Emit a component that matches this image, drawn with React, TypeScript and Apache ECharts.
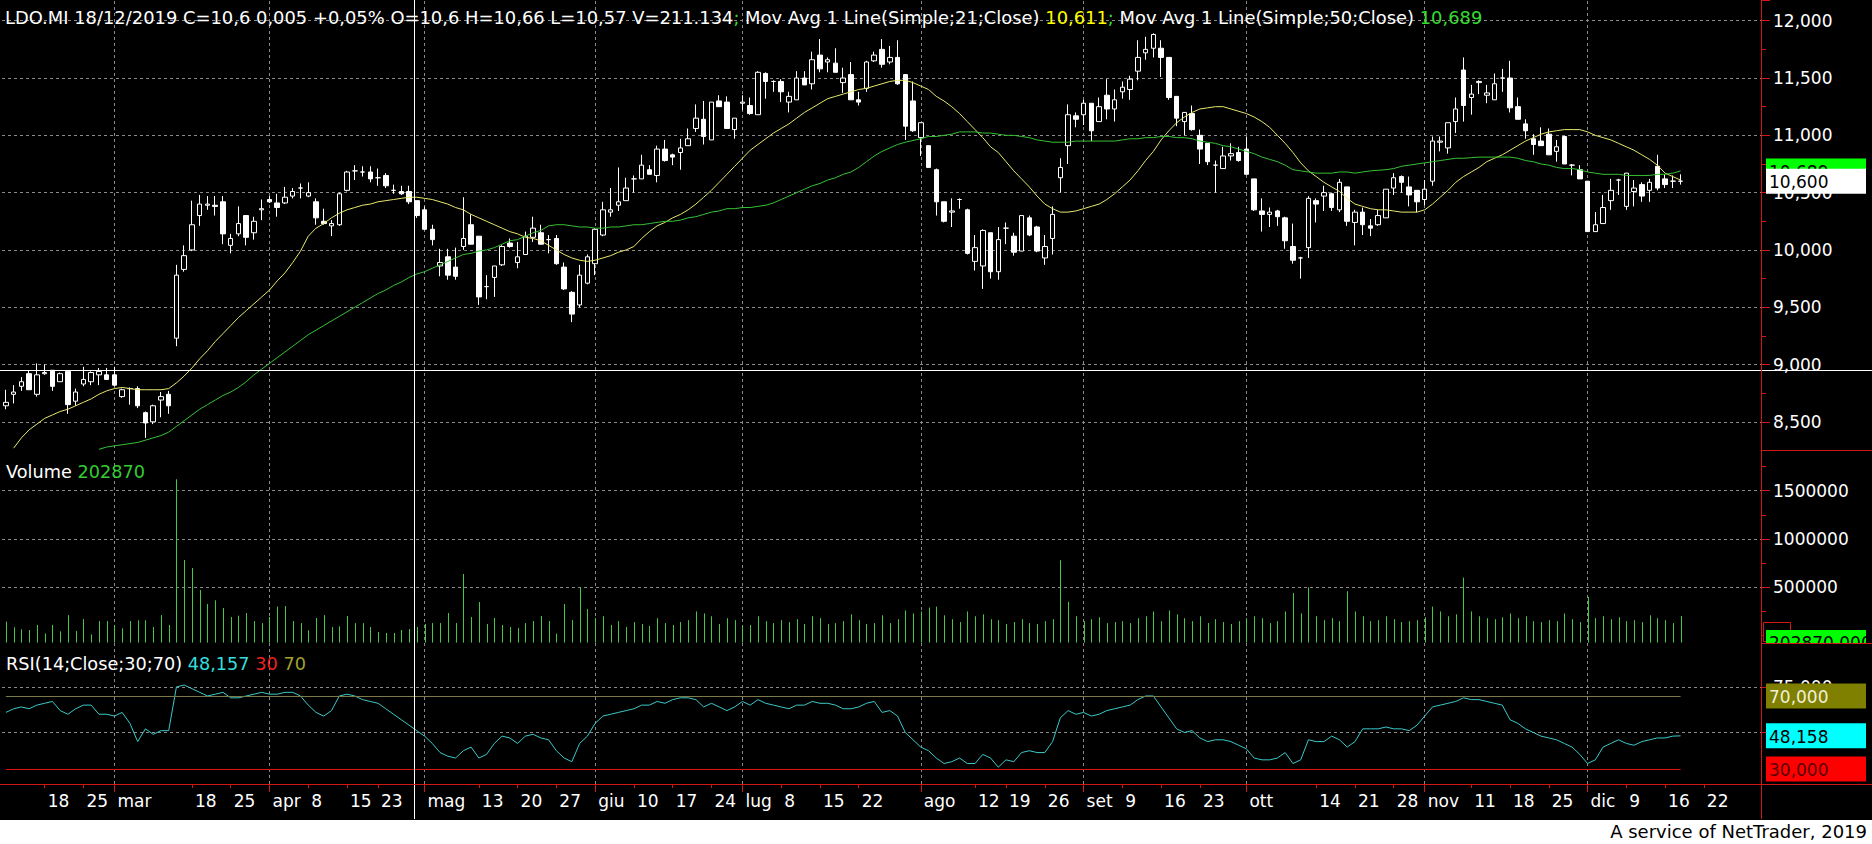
import React, { useEffect, useRef } from "react";
import * as echarts from "echarts";

const FONT = "DejaVu Sans";

// ---------- categories (trading days shown on the chart) ----------
const daysFeb = [11, 12, 13, 14, 15, 18, 19, 20, 21, 22, 25, 26, 27, 28];
const daysMar = [1, 4, 5, 6, 7, 8, 11, 12, 13, 14, 18, 19, 20, 21, 22, 25, 26, 27, 28, 29];
const daysApr = [1, 2, 3, 4, 5, 8, 9, 10, 11, 12, 15, 16, 17, 18, 23, 24, 25, 26, 29, 30];
const daysMay = [2, 3, 6, 7, 8, 9, 10, 13, 14, 15, 16, 17, 20, 21, 22, 23, 24, 27, 28, 29, 30, 31];
const daysJun = [3, 4, 5, 6, 7, 10, 11, 12, 13, 14, 17, 18, 19, 20, 21, 24, 25, 26, 27];
const daysJul = [1, 2, 3, 4, 5, 8, 9, 10, 11, 12, 15, 16, 17, 18, 19, 22, 23, 24, 25, 26, 29, 30, 31];
const daysAug = [1, 2, 5, 6, 7, 8, 9, 12, 13, 14, 16, 19, 20, 21, 22, 23, 26, 27, 28, 29, 30];
const daysSep = [2, 3, 4, 5, 6, 9, 10, 11, 12, 13, 16, 17, 18, 19, 20, 23, 24, 25, 26, 27, 30];
const daysOct = [1, 2, 3, 4, 7, 8, 9, 10, 11, 14, 15, 16, 17, 18, 21, 22, 23, 24, 25, 28, 29, 30, 31];
const daysNov = [1, 4, 5, 6, 7, 8, 11, 12, 13, 14, 15, 18, 19, 20, 21, 22, 25, 26, 27, 28, 29];
const daysDec = [2, 3, 4, 5, 6, 9, 10, 11, 12, 13, 16, 17, 18];
const futureDec = [19, 20, 22, 23, 24, 27, 30, 31];
const futureJan = [2, 3];

const monthStarts = ["2019-03-01", "2019-04-01", "2019-05-02", "2019-06-03", "2019-07-01", "2019-08-01", "2019-09-02", "2019-10-01", "2019-11-01", "2019-12-02"];
const weekLabels = ["2019-02-18", "2019-02-25", "2019-03-18", "2019-03-25", "2019-04-08", "2019-04-15", "2019-04-23", "2019-05-13", "2019-05-20", "2019-05-27", "2019-06-10", "2019-06-17", "2019-06-24", "2019-07-08", "2019-07-15", "2019-07-22", "2019-08-12", "2019-08-19", "2019-08-26", "2019-09-09", "2019-09-16", "2019-09-23", "2019-10-14", "2019-10-21", "2019-10-28", "2019-11-11", "2019-11-18", "2019-11-25", "2019-12-09", "2019-12-16", "2019-12-22"];
const monthAbbr = ["gen", "feb", "mar", "apr", "mag", "giu", "lug", "ago", "set", "ott", "nov", "dic"];

// ---------- OHLC: [open, close, low, high] ----------
const candles = [
  [8.64, 8.67, 8.61, 8.78], [8.74, 8.76, 8.66, 8.82], [8.81, 8.85, 8.77, 8.89], [8.92, 8.78, 8.78, 8.95], [8.74, 8.91, 8.72, 9.01],
  [8.92, 8.93, 8.91, 9.0], [8.95, 8.81, 8.77, 8.95], [8.85, 8.92, 8.85, 8.93], [8.94, 8.65, 8.57, 8.95], [8.68, 8.76, 8.64, 8.79],
  [8.83, 8.87, 8.81, 8.98], [8.85, 8.93, 8.82, 8.94], [8.91, 8.94, 8.82, 8.97], [8.91, 8.87, 8.87, 8.97], [8.91, 8.82, 8.81, 8.98],
  [8.72, 8.78, 8.71, 8.79], [8.79, 8.79, 8.65, 8.8], [8.79, 8.64, 8.62, 8.81], [8.58, 8.49, 8.36, 8.59], [8.5, 8.64, 8.48, 8.65],
  [8.69, 8.72, 8.54, 8.76], [8.74, 8.64, 8.57, 8.77], [9.23, 9.78, 9.16, 9.87], [9.83, 9.95, 9.81, 10.04], [10.0, 10.22, 9.99, 10.43],
  [10.3, 10.4, 10.21, 10.48], [10.39, 10.4, 10.35, 10.47], [10.39, 10.38, 10.3, 10.47], [10.42, 10.14, 10.05, 10.47], [10.04, 10.1, 9.97, 10.14],
  [10.14, 10.23, 10.12, 10.38], [10.3, 10.11, 10.04, 10.3], [10.15, 10.25, 10.09, 10.29], [10.35, 10.36, 10.26, 10.44], [10.44, 10.42, 10.41, 10.47],
  [10.41, 10.37, 10.29, 10.49], [10.41, 10.46, 10.4, 10.55], [10.47, 10.51, 10.45, 10.54], [10.54, 10.54, 10.45, 10.58], [10.47, 10.5, 10.46, 10.59],
  [10.42, 10.28, 10.22, 10.45], [10.25, 10.23, 10.22, 10.36], [10.21, 10.23, 10.12, 10.26], [10.22, 10.49, 10.21, 10.5], [10.52, 10.68, 10.51, 10.69],
  [10.69, 10.69, 10.61, 10.74], [10.68, 10.68, 10.64, 10.73], [10.68, 10.62, 10.59, 10.73], [10.63, 10.63, 10.56, 10.71], [10.65, 10.56, 10.54, 10.67],
  [10.52, 10.52, 10.49, 10.57], [10.51, 10.49, 10.48, 10.56], [10.51, 10.42, 10.4, 10.56], [10.43, 10.3, 10.28, 10.43], [10.35, 10.18, 10.18, 10.38],
  [10.18, 10.09, 10.04, 10.22], [9.86, 9.89, 9.77, 10.01], [9.94, 9.78, 9.74, 10.01], [9.85, 9.77, 9.74, 10.02], [10.03, 10.1, 10.0, 10.46],
  [10.22, 10.05, 10.05, 10.31], [10.12, 9.59, 9.52, 10.12], [9.68, 9.68, 9.57, 9.78], [9.76, 9.86, 9.59, 9.86], [9.87, 10.03, 9.86, 10.04],
  [10.06, 10.03, 10.02, 10.1], [9.89, 9.94, 9.84, 10.07], [9.96, 10.12, 9.96, 10.16], [10.11, 10.19, 10.07, 10.29], [10.15, 10.05, 10.05, 10.22],
  [10.09, 10.09, 9.97, 10.13], [10.1, 9.88, 9.87, 10.13], [9.85, 9.66, 9.65, 9.89], [9.63, 9.44, 9.37, 9.64], [9.52, 9.78, 9.5, 9.87],
  [9.71, 9.94, 9.7, 9.96], [9.88, 10.18, 9.78, 10.19], [10.13, 10.35, 10.12, 10.42], [10.33, 10.35, 10.29, 10.54], [10.39, 10.42, 10.34, 10.72],
  [10.43, 10.54, 10.43, 10.63], [10.62, 10.62, 10.5, 10.65], [10.62, 10.74, 10.62, 10.83], [10.7, 10.66, 10.66, 10.74], [10.65, 10.88, 10.59, 10.91],
  [10.88, 10.78, 10.77, 10.96], [10.83, 10.81, 10.74, 10.84], [10.85, 10.89, 10.7, 10.97], [10.91, 10.97, 10.91, 11.06], [11.06, 11.15, 11.03, 11.27],
  [11.14, 10.99, 10.92, 11.3], [10.96, 11.29, 10.96, 11.29], [11.3, 11.25, 11.25, 11.35], [11.29, 11.06, 11.06, 11.34], [11.05, 11.15, 10.97, 11.15],
  [11.28, 11.29, 11.22, 11.35], [11.26, 11.19, 11.18, 11.33], [11.18, 11.55, 11.18, 11.56], [11.54, 11.47, 11.32, 11.55], [11.47, 11.47, 11.38, 11.48],
  [11.47, 11.38, 11.29, 11.49], [11.29, 11.34, 11.2, 11.38], [11.31, 11.5, 11.31, 11.56], [11.5, 11.44, 11.44, 11.56], [11.45, 11.66, 11.4, 11.73],
  [11.7, 11.58, 11.55, 11.84], [11.64, 11.66, 11.55, 11.68], [11.63, 11.55, 11.55, 11.76], [11.46, 11.5, 11.37, 11.59], [11.53, 11.31, 11.31, 11.64],
  [11.31, 11.29, 11.26, 11.38], [11.41, 11.64, 11.38, 11.65], [11.65, 11.7, 11.64, 11.73], [11.75, 11.62, 11.59, 11.84], [11.64, 11.68, 11.62, 11.78],
  [11.68, 11.45, 11.44, 11.83], [11.53, 11.08, 10.96, 11.53], [11.3, 11.04, 11.03, 11.47], [10.98, 11.11, 10.82, 11.11], [10.91, 10.72, 10.72, 10.91],
  [10.7, 10.42, 10.3, 10.71], [10.42, 10.25, 10.24, 10.42], [10.33, 10.34, 10.2, 10.45], [10.44, 10.44, 10.36, 10.45], [10.35, 9.97, 9.96, 10.36],
  [9.9, 10.02, 9.82, 10.13], [9.86, 10.17, 9.66, 10.18], [10.15, 9.81, 9.75, 10.15], [9.81, 10.09, 9.74, 10.2], [10.19, 10.19, 10.05, 10.24],
  [10.12, 9.98, 9.95, 10.15], [9.99, 10.3, 9.99, 10.3], [10.28, 10.13, 10.12, 10.3], [10.2, 9.99, 9.98, 10.21], [9.93, 10.03, 9.87, 10.13],
  [10.1, 10.31, 9.96, 10.38], [10.63, 10.72, 10.5, 10.8], [10.91, 11.18, 10.75, 11.27], [11.17, 11.14, 11.07, 11.2], [11.18, 11.28, 11.09, 11.31],
  [11.28, 11.04, 10.95, 11.28], [11.12, 11.25, 11.12, 11.33], [11.35, 11.23, 11.14, 11.49], [11.23, 11.31, 11.12, 11.4], [11.38, 11.42, 11.32, 11.47],
  [11.4, 11.49, 11.31, 11.52], [11.56, 11.68, 11.48, 11.83], [11.72, 11.75, 11.66, 11.86], [11.76, 11.88, 11.68, 11.89], [11.76, 11.68, 11.51, 11.83],
  [11.68, 11.33, 11.31, 11.68], [11.34, 11.15, 11.08, 11.34], [11.12, 11.2, 11.0, 11.2], [11.19, 11.05, 11.04, 11.26], [11.0, 10.88, 10.75, 11.05],
  [10.93, 10.77, 10.74, 10.93], [10.74, 10.74, 10.5, 10.78], [10.71, 10.82, 10.71, 10.9], [10.82, 10.84, 10.78, 10.93], [10.85, 10.78, 10.77, 10.9],
  [10.88, 10.66, 10.66, 10.99], [10.62, 10.35, 10.34, 10.62], [10.34, 10.31, 10.16, 10.45], [10.31, 10.33, 10.2, 10.37], [10.34, 10.29, 10.21, 10.35],
  [10.28, 10.08, 10.01, 10.29], [10.03, 9.91, 9.88, 10.23], [9.93, 9.93, 9.75, 9.94], [10.02, 10.45, 9.93, 10.47], [10.43, 10.4, 10.24, 10.45],
  [10.47, 10.5, 10.34, 10.56], [10.49, 10.37, 10.34, 10.5], [10.35, 10.59, 10.33, 10.62], [10.55, 10.25, 10.21, 10.55], [10.24, 10.33, 10.04, 10.35],
  [10.33, 10.22, 10.13, 10.37], [10.21, 10.19, 10.12, 10.27], [10.22, 10.3, 10.21, 10.35], [10.28, 10.53, 10.28, 10.53], [10.54, 10.63, 10.48, 10.67],
  [10.64, 10.59, 10.5, 10.65], [10.55, 10.48, 10.38, 10.64], [10.52, 10.42, 10.33, 10.52], [10.44, 10.53, 10.39, 10.61], [10.6, 10.95, 10.56, 10.99],
  [10.94, 10.95, 10.86, 10.99], [10.89, 11.11, 10.84, 11.11], [11.12, 11.23, 11.02, 11.33], [11.57, 11.26, 11.12, 11.68], [11.33, 11.36, 11.18, 11.44],
  [11.46, 11.47, 11.36, 11.48], [11.35, 11.37, 11.28, 11.44], [11.31, 11.45, 11.31, 11.54], [11.5, 11.5, 11.38, 11.58], [11.5, 11.24, 11.2, 11.65],
  [11.25, 11.14, 11.14, 11.33], [11.1, 11.04, 10.97, 11.14], [10.97, 10.92, 10.83, 11.01], [10.95, 10.91, 10.91, 11.07], [11.01, 10.83, 10.83, 11.06],
  [10.86, 10.9, 10.77, 10.96], [10.99, 10.75, 10.75, 10.99], [10.74, 10.74, 10.65, 10.75], [10.7, 10.62, 10.62, 10.74], [10.6, 10.16, 10.16, 10.6],
  [10.16, 10.22, 10.16, 10.33], [10.23, 10.37, 10.23, 10.48], [10.43, 10.52, 10.35, 10.62], [10.61, 10.61, 10.48, 10.62], [10.38, 10.67, 10.35, 10.67],
  [10.51, 10.54, 10.38, 10.61], [10.57, 10.47, 10.42, 10.59], [10.52, 10.59, 10.42, 10.62], [10.73, 10.54, 10.52, 10.83], [10.62, 10.57, 10.54, 10.66],
  [10.6, 10.6, 10.54, 10.65], [10.6, 10.6, 10.57, 10.66],
];

const ma21 = [
  null, 8.27, 8.36, 8.43, 8.48, 8.53, 8.56, 8.59, 8.61, 8.64, 8.67,
  8.7, 8.74, 8.77, 8.79, 8.8, 8.79, 8.78, 8.78, 8.78, 8.78,
  8.79, 8.84, 8.9, 8.97, 9.05, 9.12, 9.2, 9.27, 9.34, 9.41,
  9.47, 9.53, 9.59, 9.65, 9.73, 9.8, 9.89, 9.99, 10.12, 10.19,
  10.23, 10.28, 10.32, 10.35, 10.37, 10.39, 10.4, 10.42, 10.43, 10.44,
  10.45, 10.46, 10.46, 10.45, 10.44, 10.42, 10.4, 10.37, 10.35, 10.31,
  10.28, 10.25, 10.22, 10.19, 10.16, 10.14, 10.11, 10.1, 10.08, 10.04,
  10.0, 9.96, 9.93, 9.91, 9.9, 9.91, 9.93, 9.95, 9.98, 10.0,
  10.03, 10.1, 10.16, 10.21, 10.24, 10.28, 10.31, 10.35, 10.4, 10.46,
  10.52, 10.59, 10.66, 10.73, 10.8, 10.87, 10.92, 10.97, 11.02, 11.06,
  11.1, 11.15, 11.2, 11.24, 11.28, 11.32, 11.34, 11.36, 11.38, 11.4,
  11.41, 11.43, 11.45, 11.47, 11.48, 11.48, 11.46, 11.43, 11.4, 11.34,
  11.3, 11.25, 11.19, 11.12, 11.05, 10.98, 10.9, 10.85, 10.77, 10.69,
  10.62, 10.55, 10.47, 10.4, 10.36, 10.33, 10.33, 10.34, 10.36, 10.38,
  10.4, 10.44, 10.49, 10.55, 10.61, 10.69, 10.78, 10.86, 10.96, 11.04,
  11.11, 11.16, 11.2, 11.23, 11.24, 11.25, 11.25, 11.23, 11.21, 11.19,
  11.16, 11.12, 11.07, 11.0, 10.93, 10.85, 10.76, 10.69, 10.64, 10.59,
  10.55, 10.51, 10.45, 10.4, 10.38, 10.36, 10.35, 10.35, 10.34, 10.33,
  10.33, 10.33, 10.35, 10.4, 10.46, 10.52, 10.59, 10.64, 10.68, 10.72,
  10.77, 10.8, 10.83, 10.87, 10.91, 10.95, 10.98, 11.01, 11.03, 11.04,
  11.05, 11.05, 11.05, 11.03, 11.0, 10.98, 10.96, 10.93, 10.9, 10.87,
  10.83, 10.79, 10.74, 10.67, 10.64, 10.61,
];

const ma50 = [
  null, null, null, null, null, null, null, null, null, null, null, null,
  8.26, 8.28, 8.29, 8.3, 8.31, 8.32, 8.34, 8.36, 8.38,
  8.41, 8.46, 8.51, 8.56, 8.61, 8.65, 8.69, 8.73, 8.76, 8.8,
  8.85, 8.91, 8.96, 9.01, 9.06, 9.11, 9.16, 9.21, 9.26, 9.3,
  9.34, 9.38, 9.42, 9.46, 9.5, 9.54, 9.58, 9.62, 9.65, 9.69,
  9.72, 9.76, 9.79, 9.81, 9.84, 9.87, 9.9, 9.93, 9.96, 9.97,
  9.99, 10.0, 10.02, 10.05, 10.08, 10.09, 10.12, 10.15, 10.17, 10.21,
  10.22, 10.22, 10.21, 10.2, 10.2, 10.19, 10.19, 10.2, 10.2, 10.21,
  10.22, 10.22, 10.23, 10.24, 10.25, 10.25, 10.26, 10.28, 10.29, 10.31,
  10.33, 10.34, 10.36, 10.36, 10.37, 10.37, 10.38, 10.39, 10.41, 10.44,
  10.47, 10.5, 10.53, 10.56, 10.58, 10.61, 10.63, 10.66, 10.68, 10.72,
  10.77, 10.82, 10.86, 10.89, 10.92, 10.94, 10.955, 10.97, 10.99, 10.99,
  11.0, 11.01, 11.03, 11.03, 11.03, 11.02, 11.02, 11.01, 11.0, 11.0,
  10.99, 10.98, 10.96, 10.95, 10.94, 10.94, 10.94, 10.95, 10.95, 10.95,
  10.95, 10.95, 10.95, 10.96, 10.97, 10.97, 10.98, 10.98, 10.99, 10.99,
  10.98, 10.98, 10.97, 10.95, 10.94, 10.93, 10.91, 10.9, 10.88, 10.86,
  10.84, 10.81, 10.79, 10.77, 10.74, 10.7, 10.69, 10.68, 10.67, 10.67,
  10.67, 10.68, 10.68, 10.67, 10.68, 10.69, 10.695, 10.7, 10.71, 10.73,
  10.74, 10.75, 10.76, 10.77, 10.78, 10.79, 10.8, 10.8, 10.805, 10.81,
  10.81, 10.81, 10.81, 10.81, 10.8, 10.78, 10.77, 10.75, 10.74, 10.72,
  10.71, 10.71, 10.7, 10.68, 10.67, 10.66, 10.66, 10.66, 10.65, 10.65,
  10.65, 10.65, 10.66, 10.66, 10.67, 10.69,
];

const volume = [
  144000, 86000, 65000, 58000, 110000, 23000, 110000, 44000, 213000, 48000,
  172000, 13000, 151000, 151000, 110000, 75000, 151000, 158000, 158000, 89000,
  213000, 110000, 1618000, 783000, 700000, 472000, 327000, 365000, 286000, 193000,
  206000, 234000, 151000, 130000, 193000, 300000, 306000, 151000, 130000, 55000,
  182000, 213000, 89000, 96000, 203000, 130000, 130000, 89000, 37000, 27000,
  27000, 58000, 68000, 89000, 120000, 130000, 130000, 234000, 130000, 638000,
  193000, 348000, 120000, 182000, 110000, 89000, 79000, 130000, 151000, 203000,
  151000, 20000, 327000, 161000, 503000, 275000, 180000,
  200000, 110000, 150000, 90000, 140000, 120000, 100000, 180000, 130000, 110000, 140000, 160000,
  250000, 230000, 200000, 120000, 180000, 160000, 100000, 110000, 200000, 150000, 130000, 160000,
  140000, 170000, 120000, 200000, 180000, 120000, 130000, 150000, 220000, 160000, 120000, 130000, 210000, 130000, 170000,
  260000, 230000, 250000, 290000, 300000, 210000, 170000, 140000, 250000, 200000, 220000, 170000, 160000, 120000, 140000, 170000, 130000, 120000, 150000, 170000,
  780000, 350000, 200000, 150000, 170000, 190000, 130000, 140000, 150000, 130000, 180000, 200000, 250000, 150000, 260000, 220000, 180000, 150000, 200000, 130000, 170000, 140000, 120000, 150000, 180000,
  200000, 180000, 130000, 150000, 250000, 440000, 230000, 500000, 200000, 160000, 180000, 150000, 460000, 250000, 200000, 150000, 160000, 200000, 170000, 140000, 150000, 160000, 190000,
  300000, 250000, 200000, 220000, 600000, 250000, 200000, 180000, 170000, 190000, 230000, 180000, 200000, 150000, 140000, 160000, 150000, 230000, 170000, 140000, 400000, 180000, 200000, 170000, 190000, 150000, 160000, 140000, 210000, 180000, 160000, 130000, 202870,
];

const rsi = [
  61, 63, 64, 63, 65, 66, 67, 62, 60, 63, 65, 65, 60, 60, 59, 61, 55, 45, 52, 49,
  51, 51, 75, 76, 74, 72, 70, 71, 72, 69, 69, 70, 71, 72, 71, 71, 72, 72, 70, 65,
  61, 59, 62, 70, 71, 70, 68, 67, 66, 63, 60, 57, 54, 51, 48, 44, 39, 37, 36, 40,
  42, 36, 38, 44, 48, 47, 44, 48, 49, 47, 46, 40, 36, 34, 44, 48, 55, 59, 60, 61,
  62, 63, 65, 65, 67, 66, 68, 69, 69, 68, 64, 66, 64, 62, 64, 67, 65, 68, 66, 65,
  64, 63, 65, 65, 67, 66, 66, 65, 63, 63, 64, 66, 67, 61, 62, 59, 50, 46, 42, 40,
  36, 33, 34, 36, 33, 33, 38, 36, 31, 35, 34, 39, 40, 39, 39, 45, 58, 62, 60, 61,
  59, 60, 62, 63, 64, 65, 68, 70, 70, 64, 58, 52, 50, 51, 47, 45, 46, 46, 45, 43,
  41, 36, 35, 35, 36, 39, 33, 35, 46, 45, 45, 48, 46, 42, 45, 52, 52, 52, 53, 52,
  52, 51, 54, 59, 64, 65, 66, 67, 69, 68, 68, 67, 66, 65, 57, 55, 52, 50, 48, 47,
  46, 44, 42, 38, 33, 35, 42, 44, 46, 44, 43, 45, 46, 47, 47, 48, 48.16,
];

const pad = (n: number) => String(n).padStart(2, "0");
const mk = (y: number, m: number, list: number[]) => list.map((d) => `${y}-${pad(m)}-${pad(d)}`);
const categories = [
  ...mk(2019, 2, daysFeb), ...mk(2019, 3, daysMar), ...mk(2019, 4, daysApr), ...mk(2019, 5, daysMay),
  ...mk(2019, 6, daysJun), ...mk(2019, 7, daysJul), ...mk(2019, 8, daysAug), ...mk(2019, 9, daysSep),
  ...mk(2019, 10, daysOct), ...mk(2019, 11, daysNov), ...mk(2019, 12, daysDec),
  ...mk(2019, 12, futureDec), ...mk(2020, 1, futureJan),
];

const monthSet = new Set(monthStarts);
const weekSet = new Set(weekLabels);
const RED = "#d01818";
const GRID_GREY = "#8a8a8a";
const TXT = `17.7px "${FONT}"`;
const HDR = `17.9px "${FONT}"`;

const commaFmt = (v: number) => v.toFixed(3).replace(".", ",");

export default function App() {
  const ref = useRef<HTMLDivElement>(null);
  useEffect(() => {
    document.body.style.margin = "0";
    const chart = echarts.init(ref.current!, null, { renderer: "svg" });
    const L = 2;
    const R = 110;
    const grids = [
      { left: L, right: R, top: 0, height: 450.7 },
      { left: L, right: R, top: 450.7, height: 184.9 },
      { left: L, right: R, top: 641.25, height: 136.85 },
      { left: L, right: R, top: 0, height: 784 },
    ].map((g) => ({ ...g, containLabel: false, outerBoundsMode: "none" }));

    const hiddenX = (gi: number) => ({
      type: "category", gridIndex: gi, data: categories, boundaryGap: true, show: false,
    });
    const yCommon = {
      position: "right",
      axisLine: { show: false },
      axisTick: { show: true, length: 8, lineStyle: { color: RED } },
      minorTick: { show: true, splitNumber: 2, length: 4, lineStyle: { color: RED } },
      splitLine: { show: true, showMinLine: false, showMaxLine: false, lineStyle: { color: GRID_GREY, type: [3, 3], width: 1 } },
      axisLabel: { color: "#fff", fontFamily: FONT, fontSize: 17, margin: 11, showMinLabel: false, showMaxLabel: false },
    };

    chart.setOption({
      animation: false,
      backgroundColor: "transparent",
      grid: grids,
      xAxis: [
        hiddenX(0), hiddenX(1), hiddenX(2),
        {
          type: "category", gridIndex: 3, data: categories, boundaryGap: true, position: "bottom",
          axisLine: { show: false, onZero: false },
          axisTick: { show: true, alignWithLabel: true, length: 8, interval: (_i: number, v: string) => monthSet.has(v), lineStyle: { color: RED } },
          axisLabel: {
            show: true, interval: (_i: number, v: string) => monthSet.has(v),
            formatter: (v: string) => monthAbbr[parseInt(v.slice(5, 7), 10) - 1],
            align: "left", color: "#fff", fontFamily: FONT, fontSize: 17, margin: 8, padding: [0, 0, 0, 3],
          },
          splitLine: { show: false },
        },
        {
          type: "category", gridIndex: 3, data: categories, boundaryGap: true, position: "bottom",
          axisLine: { show: false, onZero: false },
          axisTick: { show: true, alignWithLabel: true, length: 4, interval: (_i: number, v: string) => weekSet.has(v), lineStyle: { color: RED } },
          axisLabel: {
            show: true, interval: (_i: number, v: string) => weekSet.has(v),
            formatter: (v: string) => String(parseInt(v.slice(8, 10), 10)),
            align: "left", color: "#fff", fontFamily: FONT, fontSize: 17, margin: 8, padding: [0, 0, 0, 3],
          },
          splitLine: { show: false },
        },
        {
          type: "category", gridIndex: 3, data: categories, boundaryGap: true, position: "bottom",
          axisLine: { show: false, onZero: false },
          axisTick: { show: true, inside: true, alignWithLabel: true, length: 784, interval: (_i: number, v: string) => monthSet.has(v), lineStyle: { color: GRID_GREY, type: [3, 3] } },
          axisLabel: { show: false },
          splitLine: { show: false },
        },
      ],
      yAxis: [
        {
          ...yCommon, type: "value", gridIndex: 0, min: 8.248, max: 12.181, splitNumber: 8, scale: true,
          axisLabel: { ...yCommon.axisLabel, formatter: (v: number) => (v > 8.4 && v < 12.1 ? commaFmt(v) : "") },
        },
        {
          ...yCommon, type: "value", gridIndex: 1, min: 0, max: 1914000, splitNumber: 4,
          axisLabel: { ...yCommon.axisLabel, formatter: (v: number) => (v > 0 && v < 1900000 ? String(v) : "") },
        },
        {
          ...yCommon, type: "value", gridIndex: 2, min: 25, max: 100, interval: 25,
          minorTick: { show: false },
          axisLabel: { ...yCommon.axisLabel, formatter: (v: number) => (v === 75 ? commaFmt(v) : "") },
        },
        { type: "value", gridIndex: 3, show: false },
      ],
      series: [
        {
          type: "candlestick", name: "LDO.MI", xAxisIndex: 0, yAxisIndex: 0, data: candles, barWidth: 5, z: 3,
          itemStyle: { color: "#000", color0: "#fff", borderColor: "#fff", borderColor0: "#fff", borderColorDoji: "#fff", borderWidth: 1 },
        },
        {
          type: "line", name: "MA21", xAxisIndex: 0, yAxisIndex: 0, data: ma21, showSymbol: false, symbol: "none", z: 4,
          lineStyle: { color: "#e8e86c", width: 1 },
        },
        {
          type: "line", name: "MA50", xAxisIndex: 0, yAxisIndex: 0, data: ma50, showSymbol: false, symbol: "none", z: 4,
          lineStyle: { color: "#36c236", width: 1 },
        },
        {
          type: "custom", name: "Volume", xAxisIndex: 1, yAxisIndex: 1,
          data: volume.map((v, i) => [i, v]),
          encode: { x: 0, y: 1 },
          renderItem: (_p: any, api: any) => {
            const top = api.coord([api.value(0), api.value(1)]);
            const base = api.coord([api.value(0), 0]);
            const x = Math.round(top[0]) + 0.5;
            return { type: "line", shape: { x1: x, y1: top[1], x2: x, y2: base[1] + 7 }, style: { stroke: "#44c844", lineWidth: 1 } };
          },
        },
        {
          type: "line", name: "RSI", xAxisIndex: 2, yAxisIndex: 2, data: rsi, showSymbol: false, symbol: "none", z: 4,
          lineStyle: { color: "#3cc8c8", width: 1 },
          markLine: {
            silent: true, symbol: "none", label: { show: false },
            data: [
              [{ coord: [categories[0], 70], lineStyle: { color: "#7a7a4a", width: 1, type: "solid" } }, { coord: [categories[candles.length - 1], 70] }],
              [{ coord: [categories[0], 30], lineStyle: { color: "#e01010", width: 1, type: "solid" } }, { coord: [categories[candles.length - 1], 30] }],
            ],
          },
        },
      ],
    });

    const yP = (v: number) => chart.convertToPixel({ yAxisIndex: 0 }, v) as number;
    const yR = (v: number) => chart.convertToPixel({ yAxisIndex: 2 }, v) as number;
    const txt = (x: number, y: number, text: string, fill: string, z: number, font = `17px "${FONT}"`, extra: any = {}) => ({
      type: "text", x, y, z, silent: true,
      style: { text, fill, font, verticalAlign: "middle", ...extra },
    });
    const box = (y: number, fill: string, text: string, textFill: string, z: number) => [
      { type: "rect", z, silent: true, shape: { x: 1766, y: y - 12.5, width: 100, height: 25 }, style: { fill } },
      txt(1769, y + 1, text, textFill, z + 1),
    ];
    const hl = (x1: number, x2: number, y: number, stroke: string, z = 90) => ({
      type: "line", z, silent: true, shape: { x1, y1: y, x2, y2: y }, style: { stroke, lineWidth: 1 },
    });

    const graphic: any[] = [
      {
        type: "text", x: 5, y: 17, z: 101, silent: true,
        style: {
          text: "{w|LDO.MI 18/12/2019 C=10,6 0,005 +0,05% O=10,6 H=10,66 L=10,57 V=211.134}{g|;}{w| Mov Avg 1 Line(Simple;21;Close) }{y|10,611}{g|;}{w| Mov Avg 1 Line(Simple;50;Close) }{g|10,689}",
          font: HDR, verticalAlign: "middle", fill: "#fff",
          rich: {
            w: { fill: "#ffffff", font: HDR },
            g: { fill: "#33dd33", font: HDR },
            y: { fill: "#ffff00", font: HDR },
          },
        },
      },
      {
        type: "text", x: 6, y: 472, z: 101, silent: true,
        style: {
          text: "{w|Volume} {g|202870}", font: TXT, verticalAlign: "middle", fill: "#fff",
          rich: { w: { fill: "#fff", font: TXT }, g: { fill: "#33cc33", font: TXT } },
        },
      },
      {
        type: "text", x: 6, y: 664, z: 101, silent: true,
        style: {
          text: "{w|RSI(14;Close;30;70)} {c|48,157} {r|30} {o|70}", font: TXT, verticalAlign: "middle", fill: "#fff",
          rich: {
            w: { fill: "#fff", font: TXT }, c: { fill: "#33dddd", font: TXT },
            r: { fill: "#ee2222", font: TXT }, o: { fill: "#a0a030", font: TXT },
          },
        },
      },
      // cursor cross-hair
      hl(0, 1872, 370.5, "#ffffff", 95),
      { type: "line", z: 95, silent: true, shape: { x1: 414.5, y1: 0, x2: 414.5, y2: 819 }, style: { stroke: "#ffffff", lineWidth: 1 } },
      // price axis boxes (MA50 value, then last price on top)
      ...box(yP(10.689), "#00ff00", "10,689", "#000", 100),
      ...box(yP(10.6), "#ffffff", "10,600", "#000", 102),
      // volume axis boxes
      { type: "rect", z: 100, silent: true, shape: { x: 1763.5, y: 622.5, width: 27, height: 19 }, style: { fill: "#000", stroke: RED, lineWidth: 1 } },
      { type: "rect", z: 102, silent: true, shape: { x: 1766, y: 630, width: 100, height: 25 }, style: { fill: "#00ff00" } },
      txt(1769, 643, "202870,000", "#000", 103),
      { type: "rect", z: 104, silent: true, shape: { x: 1762, y: 643.5, width: 110, height: 22 }, style: { fill: "#000" } },
      // rsi axis boxes
      ...box(yR(70), "#808000", "70,000", "#f0f0d8", 100),
      ...box(yR(48.158), "#00ffff", "48,158", "#000", 100),
      ...box(yR(30), "#ff0000", "30,000", "#5a0000", 100),
      // frame
      { type: "line", z: 105, silent: true, shape: { x1: 1761.5, y1: 0, x2: 1761.5, y2: 819 }, style: { stroke: RED, lineWidth: 1 } },
      hl(1761, 1872, 450.5, RED, 105),
      hl(1761, 1872, 643.5, RED, 105),
      hl(0, 1872, 784.5, RED, 105),
      // footer
      txt(1867, 831, "A service of NetTrader, 2019", "#000", 101, `18px "${FONT}"`, { align: "right" }),
    ];
    chart.setOption({ graphic });
    return () => chart.dispose();
  }, []);
  return (
    <div style={{ position: "absolute", left: 0, top: 0, width: 1872, height: 844, background: "linear-gradient(#000 0px, #000 820px, #fff 820px, #fff 844px)" }}>
      <div ref={ref} style={{ width: 1872, height: 844 }} />
    </div>
  );
}
